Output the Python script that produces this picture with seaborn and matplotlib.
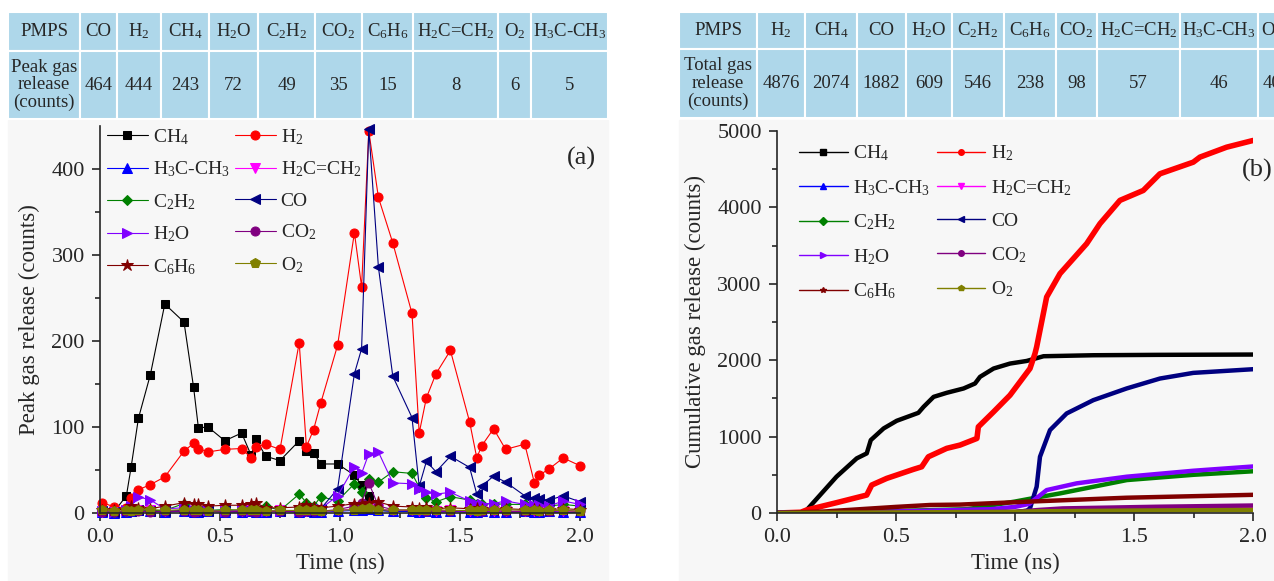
import matplotlib
matplotlib.use("Agg")
import matplotlib.pyplot as plt
import seaborn as sns
from matplotlib.patches import Rectangle
from matplotlib.lines import Line2D

# ---------------- data ----------------
# table (a): peak gas release
table_a_gases = ["CO", "H2", "CH4", "H2O", "C2H2", "CO2", "C6H6", "H2C=CH2", "O2", "H3C-CH3"]
table_a_values = [464, 444, 243, 72, 49, 35, 15, 8, 6, 5]
# table (b): total gas release
table_b_gases = ["H2", "CH4", "CO", "H2O", "C2H2", "C6H6", "CO2", "H2C=CH2", "H3C-CH3", "O2"]
table_b_values = [4876, 2074, 1882, 609, 546, 238, 98, 57, 46, 40]

labels = {"CH4": "CH$_4$", "H2": "H$_2$", "H3C-CH3": "H$_3$C-CH$_3$",
          "H2C=CH2": "H$_2$C=CH$_2$", "C2H2": "C$_2$H$_2$", "CO": "CO",
          "H2O": "H$_2$O", "CO2": "CO$_2$", "C6H6": "C$_6$H$_6$", "O2": "O$_2$"}
order = ["CH4", "H2", "H3C-CH3", "H2C=CH2", "C2H2", "CO", "H2O", "CO2", "C6H6", "O2"]
colors = {"CH4": "#000000", "H2": "#ff0000", "H3C-CH3": "#0000ff", "H2C=CH2": "#ff00ff",
          "C2H2": "#008000", "CO": "#000080", "H2O": "#8000ff", "CO2": "#800080",
          "C6H6": "#800000", "O2": "#808000"}
markers = {"CH4": "s", "H2": "o", "H3C-CH3": "^", "H2C=CH2": "v", "C2H2": "D",
           "CO": "<", "H2O": ">", "CO2": "o", "C6H6": "*", "O2": "p"}

# panel (a): peak gas release vs time
time_a = [0.01, 0.06, 0.11, 0.13, 0.16, 0.21, 0.27, 0.35, 0.39, 0.41,
          0.45, 0.52, 0.59, 0.63, 0.65, 0.69, 0.75, 0.83, 0.86, 0.89,
          0.92, 0.99, 1.06, 1.09, 1.12, 1.16, 1.22, 1.30, 1.33, 1.36,
          1.40, 1.46, 1.54, 1.57, 1.59, 1.64, 1.69, 1.77, 1.81, 1.83,
          1.87, 1.93, 2.00]
peak_ch4 = [2, 2, 20, 54, 110, 161, 243, 222, 146, 99,
            100, 84, 93, 67, 86, 66, 61, 84, 72, 70,
            57, 57, 44, 32, 20, 3, 2, 2, 1, 2,
            1, 2, 1, 1, 2, 1, 1, 1, 2, 1,
            1, 1, 1]
peak_h2 = [12, 7, 6, 17, 27, 33, 42, 72, 81, 75,
           71, 74, 75, 64, 77, 80, 74, 198, 77, 97,
           128, 195, 326, 263, 444, 367, 314, 232, 93, 134,
           162, 189, 106, 64, 78, 98, 74, 80, 35, 44,
           51, 64, 55]
peak_h3cch3 = [1, 0, 1, 2, 3, 2, 1, 2, 1, 1,
               2, 1, 1, 2, 1, 1, 2, 1, 2, 1,
               1, 2, 3, 4, 5, 3, 2, 2, 1, 2,
               1, 2, 1, 1, 2, 1, 1, 2, 1, 1,
               2, 1, 1]
peak_h2cch2 = [1, 1, 2, 3, 4, 3, 2, 3, 2, 2,
               3, 2, 2, 3, 2, 2, 3, 2, 2, 3,
               2, 3, 5, 6, 8, 5, 3, 3, 2, 3,
               2, 3, 2, 2, 3, 2, 2, 2, 2, 2,
               3, 2, 2]
peak_c2h2 = [2, 1, 2, 3, 4, 3, 3, 11, 5, 4,
             3, 4, 3, 3, 4, 8, 3, 22, 12, 8,
             19, 14, 34, 24, 40, 36, 48, 46, 30, 18,
             13, 19, 15, 10, 10, 11, 10, 10, 9, 10,
             8, 10, 8]
peak_co = [2, 1, 2, 2, 3, 2, 2, 3, 2, 2,
           2, 3, 2, 2, 3, 2, 2, 3, 2, 3,
           5, 28, 162, 191, 446, 286, 159, 111, 31, 60,
           48, 66, 53, 22, 31, 43, 36, 20, 17, 16,
           15, 20, 13]
peak_h2o = [2, 1, 3, 8, 19, 15, 5, 6, 3, 2,
            3, 2, 3, 2, 3, 2, 2, 3, 2, 4,
            5, 20, 54, 46, 69, 71, 35, 34, 28, 24,
            22, 24, 14, 11, 11, 11, 14, 10, 9, 9,
            8, 14, 10]
peak_co2 = [1, 1, 2, 2, 2, 1, 2, 2, 1, 2,
            2, 1, 2, 2, 1, 2, 2, 1, 2, 2,
            2, 4, 8, 12, 35, 8, 4, 3, 3, 2,
            3, 2, 3, 2, 2, 3, 2, 2, 3, 2,
            2, 3, 2]
peak_c6h6 = [3, 4, 4, 8, 6, 5, 8, 12, 11, 10,
             8, 9, 9, 11, 12, 6, 6, 7, 9, 7,
             6, 8, 11, 10, 12, 13, 8, 7, 6, 7,
             5, 6, 5, 6, 5, 4, 5, 4, 5, 4,
             4, 5, 4]
peak_o2 = [3, 2, 3, 2, 3, 4, 3, 4, 3, 3,
           2, 3, 4, 3, 3, 2, 3, 3, 4, 3,
           2, 3, 4, 5, 6, 4, 3, 4, 3, 3,
           4, 3, 3, 2, 3, 3, 4, 3, 3, 2,
           3, 3, 2]

# panel (b): cumulative gas release vs time
cum_ch4_t = [0, 0.10, 0.125, 0.25, 0.335, 0.377, 0.394, 0.448, 0.503, 0.594, 0.616,
             0.658, 0.713, 0.784, 0.832, 0.853, 0.91, 0.979, 1.049, 1.12, 1.33, 1.6, 2.0]
cum_ch4_v = [0, 0, 40, 475, 715, 780, 954, 1107, 1207, 1311, 1390,
             1520, 1573, 1630, 1695, 1782, 1891, 1956, 1990, 2052, 2065, 2070, 2074]
cum_h2_t = [0, 0.10, 0.125, 0.25, 0.349, 0.377, 0.398, 0.461, 0.573, 0.608, 0.636,
            0.713, 0.769, 0.84, 0.846, 0.91, 0.979, 1.063, 1.084, 1.091, 1.105, 1.133,
            1.189, 1.301, 1.357, 1.441, 1.539, 1.609, 1.749, 1.777, 1.889, 2.0]
cum_h2_v = [0, 10, 40, 135, 213, 235, 366, 453, 571, 605, 736,
            846, 889, 976, 1128, 1324, 1542, 1891, 2087, 2174, 2392, 2827,
            3133, 3525, 3787, 4092, 4222, 4440, 4592, 4658, 4788, 4876]
cum_h3cch3_t = [0, 1.0, 1.08, 1.1, 1.5, 2.0]
cum_h3cch3_v = [0, 8, 12, 20, 35, 46]
cum_h2cch2_t = [0, 1.0, 1.1, 1.5, 2.0]
cum_h2cch2_v = [0, 12, 25, 45, 57]
cum_c2h2_t = [0, 0.3, 0.8, 0.9, 1.0, 1.06, 1.19, 1.47, 1.75, 2.0]
cum_c2h2_v = [0, 10, 50, 100, 150, 185, 257, 431, 500, 546]
cum_co_t = [0, 1.0, 1.05, 1.063, 1.091, 1.105, 1.147, 1.217, 1.329, 1.469, 1.609, 1.749, 2.0]
cum_co_v = [0, 10, 30, 61, 344, 736, 1085, 1303, 1477, 1630, 1760, 1834, 1882]
cum_h2o_t = [0, 0.5, 0.9, 1.0, 1.06, 1.133, 1.259, 1.469, 1.749, 2.0]
cum_h2o_v = [0, 20, 50, 80, 120, 300, 388, 475, 553, 609]
cum_co2_t = [0, 1.0, 1.1, 1.2, 1.6, 2.0]
cum_co2_v = [0, 15, 40, 60, 82, 98]
cum_c6h6_t = [0, 0.2, 0.35, 0.5, 0.643, 0.769, 1.05, 1.469, 2.0]
cum_c6h6_v = [0, 20, 50, 80, 105, 110, 148, 200, 238]
cum_o2_t = [0, 1.0, 1.1, 1.5, 2.0]
cum_o2_v = [0, 15, 22, 32, 40]

peak = {"CH4": peak_ch4, "H2": peak_h2, "H3C-CH3": peak_h3cch3, "H2C=CH2": peak_h2cch2,
        "C2H2": peak_c2h2, "CO": peak_co, "H2O": peak_h2o, "CO2": peak_co2,
        "C6H6": peak_c6h6, "O2": peak_o2}
cumulative = {"CH4": (cum_ch4_t, cum_ch4_v), "H2": (cum_h2_t, cum_h2_v),
              "H3C-CH3": (cum_h3cch3_t, cum_h3cch3_v), "H2C=CH2": (cum_h2cch2_t, cum_h2cch2_v),
              "C2H2": (cum_c2h2_t, cum_c2h2_v), "CO": (cum_co_t, cum_co_v),
              "H2O": (cum_h2o_t, cum_h2o_v), "CO2": (cum_co2_t, cum_co2_v),
              "C6H6": (cum_c6h6_t, cum_c6h6_v), "O2": (cum_o2_t, cum_o2_v)}

# ---------------- style ----------------
sns.set_style("ticks")
plt.rcParams["font.family"] = ["Liberation Serif", "DejaVu Serif"]
plt.rcParams["mathtext.fontset"] = "custom"
plt.rcParams["mathtext.rm"] = "Liberation Serif"
plt.rcParams["mathtext.it"] = "Liberation Serif"
plt.rcParams["mathtext.default"] = "regular"
plt.rcParams["axes.linewidth"] = 1.2

W, H = 1274, 581
fig = plt.figure(figsize=(W / 100, H / 100), dpi=100)
fig.patch.set_facecolor("white")

# light gray panel backgrounds under the tables
for x0, x1 in [(8, 608), (679, 1274)]:
    fig.add_artist(Rectangle((x0 / W, 0), (x1 - x0) / W, (581 - 120) / H,
                             transform=fig.transFigure, color="#f7f7f7", zorder=-10))


def draw_table(edges, top, mid, bottom, first_head, first_val, gases, values):
    heads = [first_head] + [labels[g] for g in gases]
    vals = [first_val] + [str(v) for v in values]
    for i in range(len(heads)):
        x0, x1 = edges[i], edges[i + 1]
        for (ya, yb), txt in [((top, mid), heads[i]), ((mid, bottom), vals[i])]:
            fig.add_artist(Rectangle((x0 / W, 1 - yb / H), (x1 - x0) / W, (yb - ya) / H,
                                     transform=fig.transFigure, facecolor="#aed7ea",
                                     edgecolor="white", lw=1.5, zorder=1))
            fig.text((x0 + x1) / 2 / W, 1 - (ya + yb) / 2 / H, txt, ha="center",
                     va="center", fontsize=13.5, linespacing=1.05, zorder=2)


draw_table([8, 80, 117, 161, 209, 258, 315, 362, 413, 498, 531, 608], 12, 51, 119,
           "PMPS", "Peak gas\nrelease\n(counts)", table_a_gases, table_a_values)
draw_table([679, 757, 805, 857, 906, 952, 1004, 1056, 1097, 1180, 1258, 1286], 12, 49, 118,
           "PMPS", "Total gas\nrelease\n(counts)", table_b_gases, table_b_values)

ax_a = fig.add_axes([100 / W, 68 / H, 480 / W, 387 / H])
ax_b = fig.add_axes([777 / W, 68 / H, 476 / W, 382 / H])

# ---------------- panel (a) ----------------
msize = {"s": 6, "o": 6.5, "^": 7, "v": 7, "D": 5.5, "<": 7, ">": 7, "*": 9, "p": 7}
handles_a = {}
for g in order:
    sns.lineplot(x=time_a, y=peak[g], ax=ax_a, color=colors[g], marker=markers[g],
                 markersize=msize[markers[g]], markeredgecolor=colors[g], lw=0.8,
                 sort=False, errorbar=None, label=labels[g], clip_on=False)
    handles_a[g] = ax_a.lines[-1]

# ---------------- panel (b) ----------------
for g in order:
    t, v = cumulative[g]
    sns.lineplot(x=t, y=v, ax=ax_b, color=colors[g], lw=4 if g == "H2" else 3.2,
                 sort=False, errorbar=None, legend=False)

leg_order = ["CH4", "H3C-CH3", "C2H2", "H2O", "C6H6", "H2", "H2C=CH2", "CO", "CO2", "O2"]

ax_a.legend([handles_a[g] for g in leg_order], [labels[g] for g in leg_order], ncol=2,
            loc="upper left", bbox_to_anchor=(7 / 480, 0.997), frameon=False, fontsize=14,
            borderpad=0, borderaxespad=0, handlelength=2.1, handletextpad=0.25,
            columnspacing=0.3, labelspacing=0.66)

handles_b = [Line2D([], [], color=colors[g], lw=1, marker=markers[g], ms=4,
                    markeredgecolor=colors[g]) for g in leg_order]
ax_b.legend(handles_b, [labels[g] for g in leg_order], ncol=2, loc="upper left",
            bbox_to_anchor=(22 / 476, 0.967), frameon=False, fontsize=14, borderpad=0,
            borderaxespad=0, handlelength=2.5, handletextpad=0.3, columnspacing=0.35,
            labelspacing=0.76)

for ax, ymax, ystep, ylab in [(ax_a, 450, 100, "Peak gas release (counts)"),
                              (ax_b, 5000, 1000, "Cumulative gas release (counts)")]:
    ax.set_facecolor("none")
    ax.set_xlim(0, 2.0)
    ax.set_ylim(0, ymax)
    ax.set_xticks([0.0, 0.5, 1.0, 1.5, 2.0])
    ax.set_xticklabels(["0.0", "0.5", "1.0", "1.5", "2.0"])
    ax.set_xticks([0.25, 0.75, 1.25, 1.75], minor=True)
    ax.set_yticks(range(0, ymax + 1, ystep))
    ax.set_yticks(range(ystep // 2, ymax, ystep), minor=True)
    ax.tick_params(which="major", direction="out", length=6, width=1.2, labelsize=16, pad=5)
    ax.tick_params(which="minor", direction="out", length=3.5, width=1.2)
    sns.despine(ax=ax)
    ax.set_xlabel("Time (ns)", fontsize=16.5, labelpad=4)
    ax.set_ylabel(ylab, fontsize=16.5, labelpad=8)

ax_a.text(1.946, 412, "(a)", fontsize=19, ha="left", va="center")
ax_b.text(1.954, 4484, "(b)", fontsize=19, ha="left", va="center", clip_on=False)

fig.savefig("out.png", dpi=100)
